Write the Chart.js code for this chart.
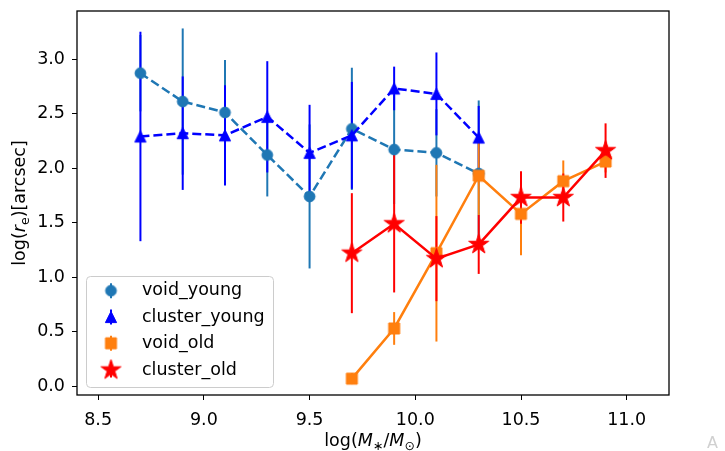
<!DOCTYPE html>
<html>
<head>
<meta charset="utf-8">
<script src="https://cdn.jsdelivr.net/npm/chart.js@4.4.1/dist/chart.umd.min.js"></script>
<style>
  html, body { margin: 0; padding: 0; background: #fff; }
  #wrap { width: 725px; height: 451px; }
</style>
</head>
<body>
<div id="wrap"><canvas id="myChart" width="725" height="451"></canvas></div>
<script>
// data
const massYoung = [8.7, 8.9, 9.1, 9.3, 9.5, 9.7, 9.9, 10.1, 10.3];
const massOld = [9.7, 9.9, 10.1, 10.3, 10.5, 10.7, 10.9];

const voidYoung = [2.87, 2.61, 2.51, 2.12, 1.74, 2.36, 2.17, 2.14, 1.95];
const voidYoungErr = [0.35, 0.67, 0.48, 0.38, 0.66, 0.56, 0.50, 0.40, 0.67];
const clusterYoung = [2.29, 2.32, 2.30, 2.47, 2.14, 2.30, 2.73, 2.68, 2.28];
const clusterYoungErr = [0.96, 0.52, 0.46, 0.51, 0.44, 0.49, 0.20, 0.38, 0.29];
const voidOld = [0.07, 0.53, 1.22, 1.93, 1.58, 1.88, 2.06];
const voidOldErr = [0.05, 0.15, 0.81, 0.36, 0.38, 0.19, 0.10];
const clusterOld = [1.22, 1.49, 1.17, 1.30, 1.73, 1.73, 2.16];
const clusterOldErr = [0.55, 0.63, 0.39, 0.27, 0.24, 0.22, 0.25];

const xTicks = [8.5, 9.0, 9.5, 10.0, 10.5, 11.0];
const yTicks = [0.0, 0.5, 1.0, 1.5, 2.0, 2.5, 3.0];

const FONT = 'DejaVu Sans';
const FS = 17.5;

// filled marker images (chart.js 'star' is not a filled star)
function marker(shape, color, r) {
  const size = Math.ceil(2 * r + 4);
  const c = document.createElement('canvas');
  c.width = size; c.height = size;
  const g = c.getContext('2d');
  const cx = size / 2, cy = size / 2;
  g.fillStyle = color; g.strokeStyle = color; g.lineWidth = 1;
  g.beginPath();
  if (shape === 'circle') {
    g.arc(cx, cy, r, 0, 2 * Math.PI);
  } else if (shape === 'square') {
    g.rect(cx - r, cy - r, 2 * r, 2 * r);
  } else if (shape === 'triangle') {
    g.moveTo(cx, cy - r); g.lineTo(cx + r, cy + r); g.lineTo(cx - r, cy + r); g.closePath();
  } else if (shape === 'star') {
    for (let i = 0; i < 10; i++) {
      const rr = i % 2 ? r * 0.382 : r;
      const a = -Math.PI / 2 + i * Math.PI / 5;
      g.lineTo(cx + rr * Math.cos(a), cy + rr * Math.sin(a));
    }
    g.closePath();
  }
  g.fill(); g.stroke();
  return c;
}

const series = [
  { label: 'void_young', x: massYoung, y: voidYoung, err: voidYoungErr, color: '#1f77b4', img: marker('circle', '#1f77b4', 5.4), dash: [9, 4] },
  { label: 'cluster_young', x: massYoung, y: clusterYoung, err: clusterYoungErr, color: '#0000ff', img: marker('triangle', '#0000ff', 5.6), dash: [9, 4] },
  { label: 'void_old', x: massOld, y: voidOld, err: voidOldErr, color: '#ff7f0e', img: marker('square', '#ff7f0e', 5.5), dash: [] },
  { label: 'cluster_old', x: massOld, y: clusterOld, err: clusterOldErr, color: '#ff0000', img: marker('star', '#ff0000', 10.5), dash: [] },
];

const datasets = series.map((s, k) => ({
  label: s.label,
  data: s.x.map((xv, i) => ({ x: xv, y: s.y[i] })),
  showLine: true,
  borderColor: s.color,
  backgroundColor: s.color,
  borderWidth: 2.5,
  borderDash: s.dash,
  pointStyle: s.img,
  pointRadius: 5,
  order: series.length - k,
}));

// error bars go under every line, like matplotlib
const errorBars = {
  id: 'errorBars',
  beforeDatasetsDraw(chart) {
    const { ctx, chartArea, scales: { x, y } } = chart;
    ctx.save();
    ctx.beginPath();
    ctx.rect(chartArea.left, chartArea.top, chartArea.width, chartArea.height);
    ctx.clip();
    series.forEach(s => {
      ctx.strokeStyle = s.color;
      ctx.lineWidth = 2;
      s.x.forEach((xv, i) => {
        const px = x.getPixelForValue(xv);
        ctx.beginPath();
        ctx.moveTo(px, y.getPixelForValue(s.y[i] - s.err[i]));
        ctx.lineTo(px, y.getPixelForValue(s.y[i] + s.err[i]));
        ctx.stroke();
      });
    });
    ctx.restore();
  }
};

function drawParts(ctx, parts, size) {
  // parts: [text, style] where style is '', 'i', 'sub', 'isub'
  const fontOf = st => {
    const sz = st.indexOf('sub') >= 0 ? size * 0.72 : size;
    return (st.indexOf('i') === 0 ? 'italic ' : '') + sz + 'px "' + FONT + '"';
  };
  let total = 0;
  parts.forEach(p => { ctx.font = fontOf(p[1]); total += ctx.measureText(p[0]).width; });
  let cx = -total / 2;
  ctx.textAlign = 'left';
  ctx.textBaseline = 'alphabetic';
  parts.forEach(p => {
    ctx.font = fontOf(p[1]);
    const dy = p[1].indexOf('sub') >= 0 ? 4 : 0;
    ctx.fillText(p[0], cx, size * 0.36 + dy);
    cx += ctx.measureText(p[0]).width;
  });
}

const frameAndLabels = {
  id: 'frameAndLabels',
  afterDatasetsDraw(chart) {
    const { ctx, chartArea: a } = chart;
    ctx.save();
    ctx.strokeStyle = '#000';
    ctx.lineWidth = 1.3;
    ctx.strokeRect(a.left, a.top, a.right - a.left, a.bottom - a.top);
    ctx.restore();
  },
  afterDraw(chart) {
    const { ctx, chartArea: a } = chart;
    ctx.save();
    ctx.fillStyle = '#000';
    // x label
    ctx.save();
    ctx.translate((a.left + a.right) / 2, 440);
    drawParts(ctx, [['log(', ''], ['M', 'i'], ['\u2217', 'sub'], ['/', ''], ['M', 'i'], ['\u2299', 'sub'], [')', '']], FS);
    ctx.restore();
    // y label
    ctx.save();
    ctx.translate(19, (a.top + a.bottom) / 2);
    ctx.rotate(-Math.PI / 2);
    drawParts(ctx, [['log(', ''], ['r', 'i'], ['e', 'sub'], [')[arcsec]', '']], FS);
    ctx.restore();

    // legend
    const bx = 86, by = 276, bw = 187, bh = 111, rad = 4;
    ctx.fillStyle = 'rgba(255,255,255,0.8)';
    ctx.strokeStyle = '#cccccc';
    ctx.lineWidth = 1;
    ctx.beginPath();
    ctx.roundRect(bx + 0.5, by + 0.5, bw, bh, rad);
    ctx.fill();
    ctx.stroke();
    const rows = [290.7, 317, 343.3, 370];
    series.forEach((s, i) => {
      const yy = rows[i];
      ctx.strokeStyle = s.color;
      ctx.lineWidth = 2;
      ctx.beginPath();
      ctx.moveTo(111, yy - 7.5);
      ctx.lineTo(111, yy + 7.5);
      ctx.stroke();
      ctx.drawImage(s.img, 111 - s.img.width / 2, yy - s.img.height / 2);
      ctx.fillStyle = '#000';
      ctx.font = FS + 'px "' + FONT + '"';
      ctx.textAlign = 'left';
      ctx.textBaseline = 'middle';
      ctx.fillText(s.label, 142, yy);
    });

    // faint mark in the corner
    ctx.fillStyle = '#d0d0d0';
    ctx.font = '16px "' + FONT + '"';
    ctx.textAlign = 'left';
    ctx.textBaseline = 'middle';
    ctx.fillText('A', 707, 444);
    ctx.restore();
  }
};

const config = {
  type: 'scatter',
  data: { datasets: datasets },
  options: {
    responsive: false,
    devicePixelRatio: 1,
    animation: false,
    layout: { padding: { top: 11, right: 56, left: 0, bottom: 0 } },
    plugins: {
      legend: { display: false },
      tooltip: { enabled: false },
    },
    scales: {
      x: {
        type: 'linear',
        min: 8.4,
        max: 11.2,
        afterBuildTicks: scale => { scale.ticks = xTicks.map(v => ({ value: v })); },
        afterFit: scale => { scale.height = 56; scale.paddingLeft = 0; scale.paddingRight = 0; },
        ticks: {
          font: { family: FONT, size: FS },
          color: '#000',
          padding: 10,
          maxRotation: 0,
          callback: v => v.toFixed(1),
        },
        grid: { drawOnChartArea: false, drawTicks: true, tickLength: 5, color: '#000', lineWidth: 1 },
        border: { display: false },
      },
      y: {
        type: 'linear',
        min: -0.08,
        max: 3.44,
        afterBuildTicks: scale => { scale.ticks = yTicks.map(v => ({ value: v })); },
        afterFit: scale => { scale.width = 77; scale.paddingTop = 0; scale.paddingBottom = 0; },
        ticks: {
          font: { family: FONT, size: FS },
          color: '#000',
          padding: 7,
          callback: v => v.toFixed(1),
        },
        grid: { drawOnChartArea: false, drawTicks: true, tickLength: 5, color: '#000', lineWidth: 1 },
        border: { display: false },
      }
    }
  },
  plugins: [errorBars, frameAndLabels]
};

const myChart = new Chart(document.getElementById('myChart'), config);
</script>
</body>
</html>
